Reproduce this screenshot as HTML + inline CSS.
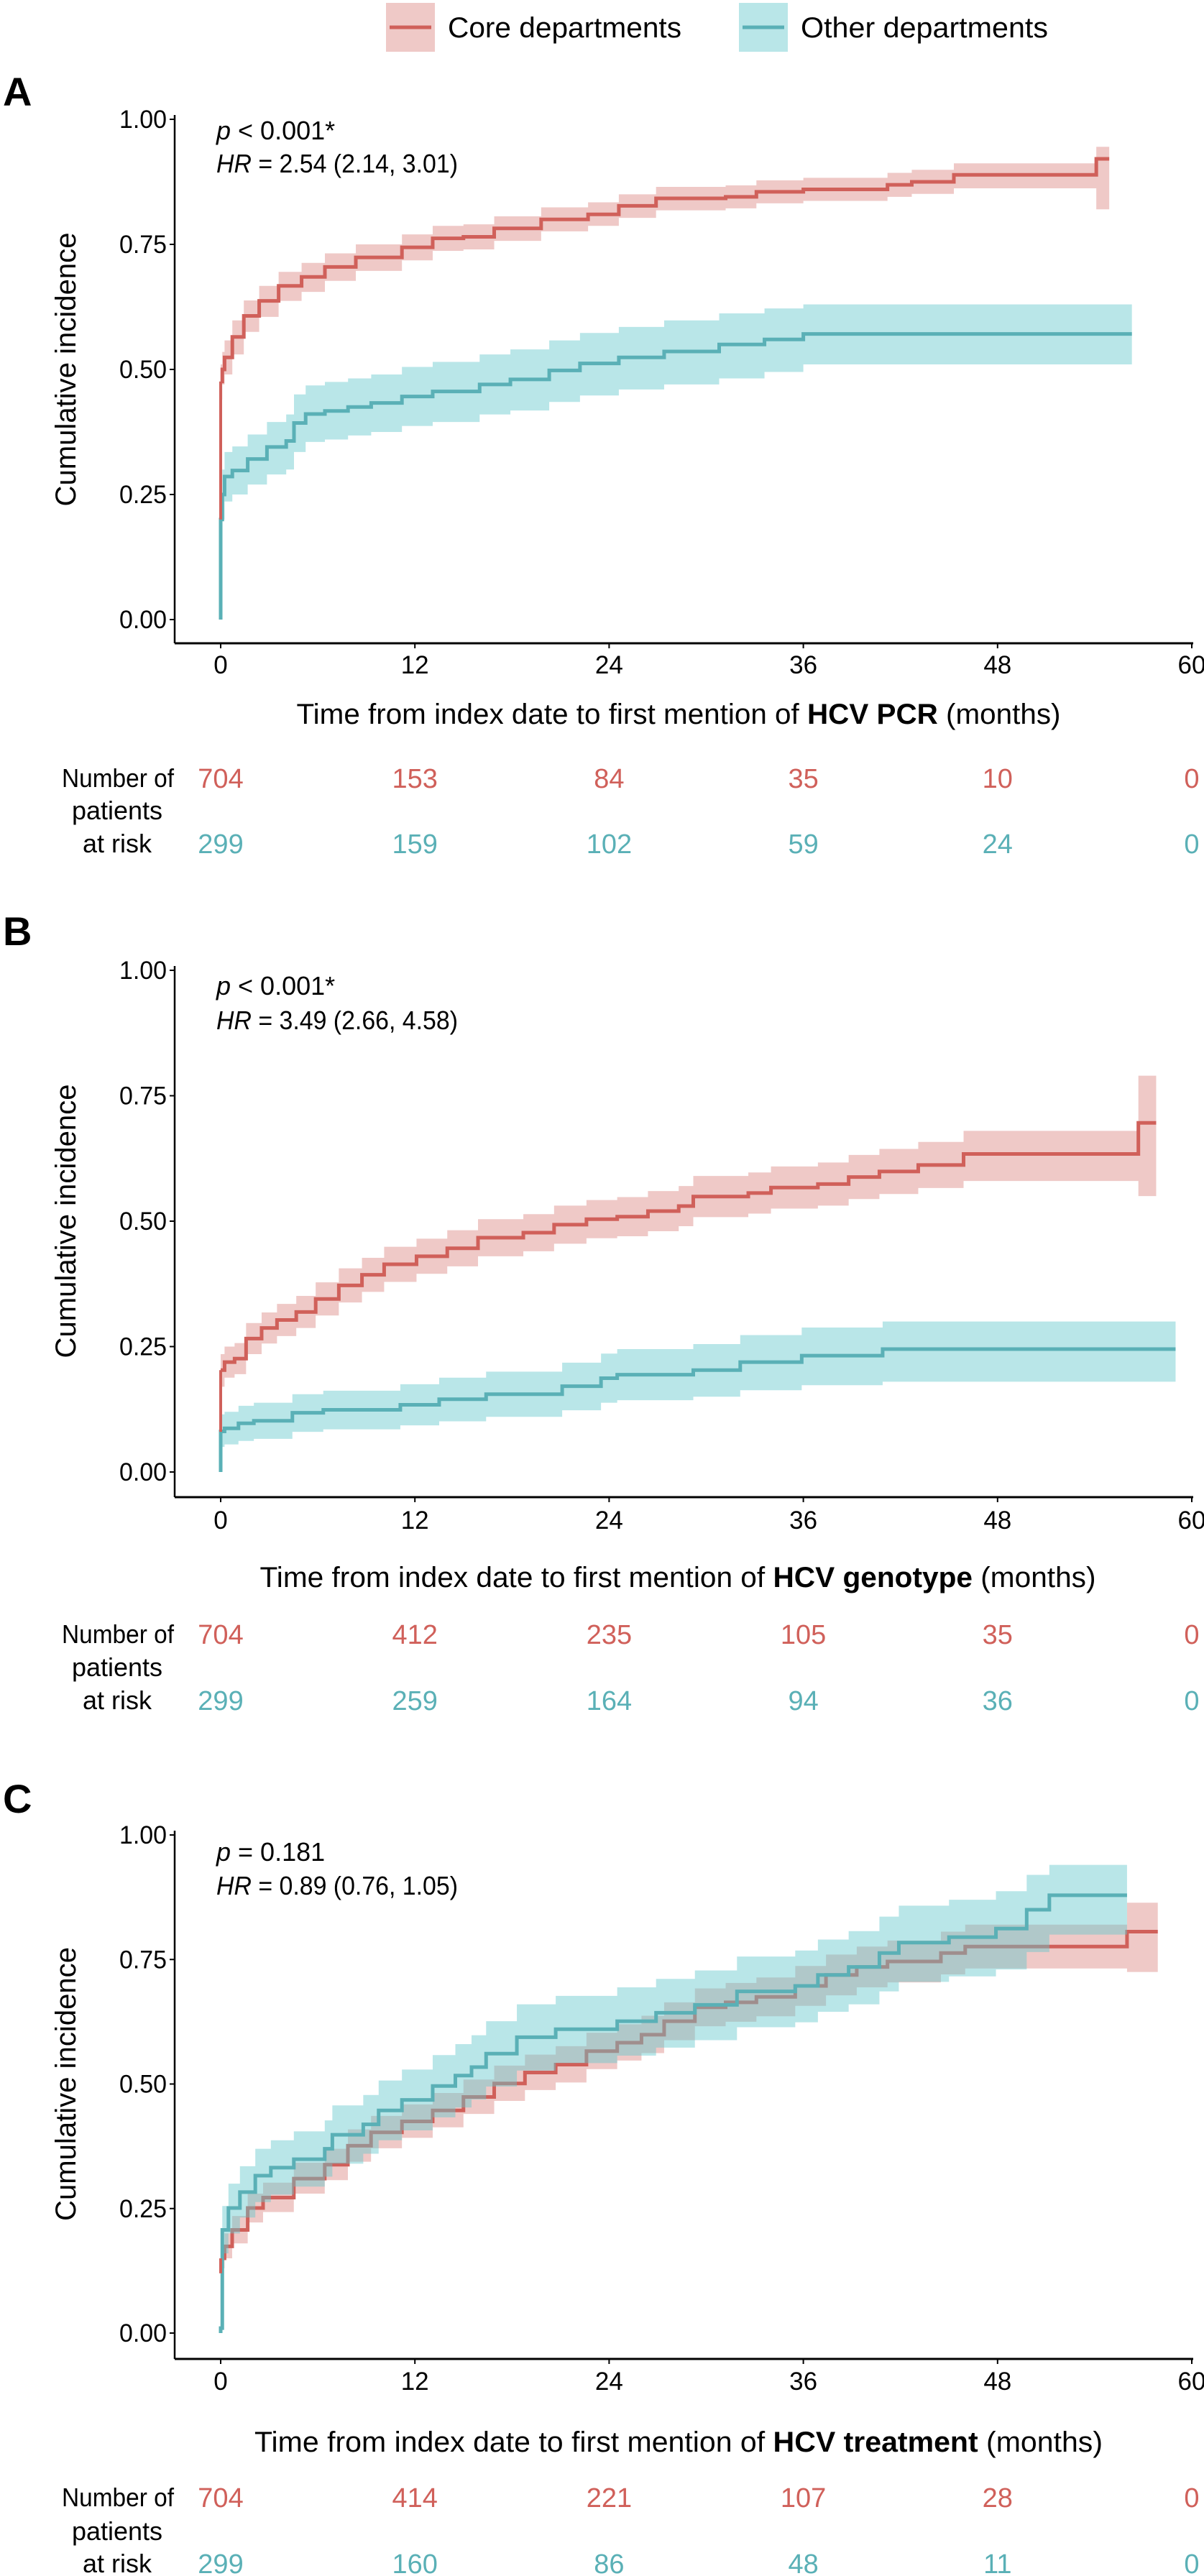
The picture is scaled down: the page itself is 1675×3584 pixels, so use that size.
<!DOCTYPE html>
<html><head><meta charset="utf-8">
<style>
html,body{margin:0;padding:0;background:#fff;}
svg{display:block;font-family:"Liberation Sans",sans-serif;}
</style></head>
<body>
<svg id="fig" width="1675" height="3584" viewBox="0 0 1675 3584" xmlns="http://www.w3.org/2000/svg">
  <g>
    <g>
      <rect x="537" y="4" width="68" height="68" fill="rgba(210,100,95,0.35)"/>
      <line x1="542" y1="38" x2="600" y2="38" stroke="#d0605a" stroke-width="5"/>
      <text x="623" y="52" font-size="40" textLength="325" lengthAdjust="spacingAndGlyphs" fill="#000">Core departments</text>
    </g>
    <g>
      <rect x="1028" y="4" width="68" height="68" fill="rgba(100,200,205,0.45)"/>
      <line x1="1033" y1="38" x2="1091" y2="38" stroke="#5ab0b6" stroke-width="5"/>
      <text x="1114" y="52" font-size="40" textLength="344" lengthAdjust="spacingAndGlyphs" fill="#000">Other departments</text>
    </g>
  </g>
</svg>
<script>
// ---------- data ----------
const xTicks = [0, 12, 24, 36, 48, 60];
const yTicks = [0, 0.25, 0.5, 0.75, 1];
const yTickLabels = ["0.00", "0.25", "0.50", "0.75", "1.00"];

// Panel A (HCV PCR)
const aCoreT  = [0, 0.1, 0.24, 0.72, 1.43, 2.38, 3.58, 5.0, 6.44, 8.35, 11.2, 13.1, 15.0, 16.9, 19.8, 22.7, 24.6, 26.9, 31.2, 33.1, 36.0, 41.2, 42.7, 45.3, 54.1, 54.9];
const aCoreV  = [0.476, 0.50, 0.524, 0.565, 0.607, 0.637, 0.667, 0.685, 0.705, 0.724, 0.744, 0.762, 0.765, 0.782, 0.80, 0.81, 0.827, 0.842, 0.845, 0.855, 0.86, 0.869, 0.875, 0.889, 0.921, 0.921];
const aCoreLo = [0.44, 0.47, 0.49, 0.53, 0.575, 0.605, 0.637, 0.655, 0.677, 0.697, 0.718, 0.737, 0.740, 0.757, 0.776, 0.787, 0.803, 0.818, 0.822, 0.832, 0.837, 0.845, 0.851, 0.862, 0.82, 0.82];
const aCoreHi = [0.51, 0.535, 0.558, 0.598, 0.638, 0.667, 0.695, 0.713, 0.732, 0.75, 0.77, 0.787, 0.79, 0.806, 0.824, 0.834, 0.85, 0.865, 0.868, 0.878, 0.883, 0.893, 0.899, 0.912, 0.945, 0.945];
const aOthT  = [0, 0.1, 0.24, 0.72, 1.67, 2.86, 4.05, 4.53, 5.25, 6.44, 7.87, 9.3, 11.2, 13.1, 16.0, 17.9, 20.3, 22.2, 24.6, 27.4, 30.8, 33.6, 36.0, 56.3];
const aOthV  = [0.20, 0.25, 0.286, 0.298, 0.321, 0.345, 0.357, 0.393, 0.411, 0.417, 0.425, 0.433, 0.446, 0.456, 0.47, 0.48, 0.498, 0.512, 0.524, 0.536, 0.55, 0.56, 0.571, 0.571];
const aOthLo = [0.16, 0.20, 0.236, 0.25, 0.27, 0.29, 0.30, 0.335, 0.355, 0.36, 0.368, 0.375, 0.387, 0.395, 0.41, 0.418, 0.435, 0.448, 0.46, 0.47, 0.482, 0.495, 0.51, 0.51];
const aOthHi = [0.25, 0.30, 0.335, 0.346, 0.37, 0.395, 0.41, 0.45, 0.468, 0.475, 0.482, 0.49, 0.505, 0.515, 0.53, 0.54, 0.558, 0.573, 0.585, 0.598, 0.612, 0.622, 0.63, 0.63];
const aRiskCore = [704, 153, 84, 35, 10, 0];
const aRiskOth  = [299, 159, 102, 59, 24, 0];

// Panel B (HCV genotype)
const bCoreT  = [0, 0.24, 0.86, 1.57, 2.53, 3.48, 4.67, 5.87, 7.3, 8.73, 10.1, 12.1, 14.0, 15.9, 18.7, 20.6, 22.6, 24.5, 26.4, 28.3, 29.2, 32.6, 34.0, 36.9, 38.8, 40.7, 43.1, 45.9, 56.7, 57.8];
const bCoreV  = [0.203, 0.219, 0.226, 0.266, 0.287, 0.303, 0.319, 0.345, 0.372, 0.393, 0.414, 0.43, 0.446, 0.467, 0.477, 0.493, 0.504, 0.509, 0.52, 0.53, 0.549, 0.556, 0.567, 0.574, 0.588, 0.599, 0.612, 0.634, 0.696, 0.696];
const bCoreLo = [0.17, 0.188, 0.195, 0.235, 0.256, 0.271, 0.287, 0.312, 0.338, 0.359, 0.379, 0.395, 0.41, 0.43, 0.44, 0.455, 0.466, 0.47, 0.48, 0.49, 0.508, 0.515, 0.525, 0.531, 0.544, 0.554, 0.566, 0.58, 0.55, 0.55];
const bCoreHi = [0.235, 0.25, 0.257, 0.297, 0.318, 0.335, 0.351, 0.378, 0.406, 0.427, 0.449, 0.465, 0.482, 0.504, 0.514, 0.531, 0.542, 0.548, 0.56, 0.57, 0.59, 0.597, 0.609, 0.617, 0.632, 0.644, 0.658, 0.68, 0.79, 0.79];
const bOthT  = [0, 0.24, 1.1, 2.05, 4.43, 6.34, 11.1, 13.5, 16.4, 21.1, 23.5, 24.5, 29.2, 32.1, 35.9, 40.9, 59.0];
const bOthV  = [0.081, 0.087, 0.097, 0.102, 0.118, 0.124, 0.134, 0.145, 0.155, 0.171, 0.187, 0.194, 0.203, 0.219, 0.232, 0.245, 0.245];
const bOthLo = [0.05, 0.055, 0.062, 0.066, 0.08, 0.085, 0.093, 0.101, 0.11, 0.123, 0.138, 0.143, 0.15, 0.163, 0.173, 0.18, 0.18];
const bOthHi = [0.115, 0.12, 0.132, 0.138, 0.155, 0.162, 0.175, 0.188, 0.2, 0.218, 0.236, 0.245, 0.255, 0.273, 0.288, 0.30, 0.30];
const bRiskCore = [704, 412, 235, 105, 35, 0];
const bRiskOth  = [299, 259, 164, 94, 36, 0];

// Panel C (HCV treatment)
const cCoreT  = [0, 0.24, 0.71, 1.67, 2.62, 4.52, 6.43, 7.86, 9.29, 11.2, 13.1, 15.0, 16.9, 18.8, 20.7, 22.6, 24.5, 26.0, 27.4, 29.3, 31.2, 33.1, 35.5, 37.4, 39.3, 41.2, 44.5, 46.0, 56.0, 57.9];
const cCoreV  = [0.15, 0.174, 0.207, 0.251, 0.272, 0.31, 0.338, 0.376, 0.403, 0.425, 0.447, 0.474, 0.501, 0.523, 0.539, 0.566, 0.583, 0.599, 0.626, 0.654, 0.664, 0.675, 0.697, 0.719, 0.735, 0.746, 0.763, 0.776, 0.806, 0.806];
const cCoreLo = [0.13, 0.15, 0.18, 0.222, 0.243, 0.28, 0.307, 0.344, 0.371, 0.392, 0.413, 0.44, 0.466, 0.488, 0.503, 0.53, 0.547, 0.562, 0.588, 0.616, 0.625, 0.636, 0.657, 0.678, 0.694, 0.704, 0.72, 0.732, 0.725, 0.725];
const cCoreHi = [0.175, 0.2, 0.235, 0.28, 0.302, 0.342, 0.37, 0.409, 0.436, 0.459, 0.482, 0.509, 0.537, 0.559, 0.576, 0.603, 0.62, 0.637, 0.664, 0.692, 0.703, 0.714, 0.737, 0.76, 0.776, 0.788, 0.806, 0.82, 0.864, 0.864];
const cOthT  = [0, 0.1, 0.48, 1.19, 2.14, 3.1, 4.52, 6.43, 6.9, 8.81, 9.76, 11.2, 13.1, 14.5, 15.5, 16.4, 18.3, 20.7, 24.5, 26.9, 29.3, 31.9, 35.5, 36.9, 38.8, 40.7, 41.9, 45.0, 47.9, 49.8, 51.2, 56.0];
const cOthV  = [0.01, 0.207, 0.251, 0.283, 0.316, 0.332, 0.349, 0.37, 0.398, 0.419, 0.447, 0.468, 0.496, 0.517, 0.534, 0.561, 0.594, 0.61, 0.626, 0.643, 0.659, 0.686, 0.697, 0.719, 0.735, 0.763, 0.784, 0.795, 0.812, 0.85, 0.879, 0.879];
const cOthLo = [0.01, 0.16, 0.2, 0.232, 0.263, 0.278, 0.294, 0.314, 0.34, 0.36, 0.387, 0.407, 0.433, 0.453, 0.469, 0.495, 0.527, 0.542, 0.557, 0.573, 0.588, 0.614, 0.624, 0.645, 0.66, 0.686, 0.705, 0.716, 0.73, 0.765, 0.8, 0.8];
const cOthHi = [0.01, 0.255, 0.3, 0.335, 0.37, 0.387, 0.405, 0.427, 0.457, 0.478, 0.507, 0.529, 0.558, 0.58, 0.598, 0.626, 0.66, 0.677, 0.694, 0.711, 0.728, 0.756, 0.768, 0.79, 0.807, 0.836, 0.858, 0.87, 0.887, 0.92, 0.94, 0.94];
const cRiskCore = [704, 414, 221, 107, 28, 0];
const cRiskOth  = [299, 160, 86, 48, 11, 0];

// ---------- drawing ----------
const NS = "http://www.w3.org/2000/svg";
const svg = document.getElementById("fig");
const RED = "#d0605a", TEAL = "#5ab0b6";
const RED_FILL = "rgba(210,100,95,0.35)", TEAL_FILL = "rgba(100,200,205,0.45)";
const X0 = 307, X60 = 1658, AXIS_X = 243;
function xs(m) { return X0 + (X60 - X0) * m / 60; }

function mk(tag, attrs, parent) {
  const e = document.createElementNS(NS, tag);
  for (const k in attrs) e.setAttribute(k, attrs[k]);
  (parent || svg).appendChild(e);
  return e;
}
function stepPath(T, V, ys) {
  let d = "M" + xs(T[0]) + "," + ys(V[0]);
  for (let i = 1; i < T.length; i++) {
    d += " H" + xs(T[i]) + " V" + ys(V[i]);
  }
  return d;
}
function bandPath(T, L, H, ys) {
  const n = T.length;
  let d = "M" + xs(T[0]) + "," + ys(H[0]);
  for (let i = 1; i < n; i++) d += " H" + xs(T[i]) + " V" + ys(H[i]);
  d += " V" + ys(L[n - 1]);
  for (let i = n - 1; i > 0; i--) d += " V" + ys(L[i]) + " V" + ys(L[i - 1]) + " H" + xs(T[i - 1]);
  d += " Z";
  return d;
}

function panel(p) {
  const g = mk("g", {});
  
  
  const ys = v => p.y0 + (p.y1 - p.y0) * v;

  const lab = mk("text", { x: 4, y: p.labY + 20, "font-size": 56, "font-weight": "bold" }, g);
  lab.textContent = p.id;
  
  

  const ya = mk("line", { x1: AXIS_X, y1: p.y1 - 6, x2: AXIS_X, y2: p.axisY, stroke: "#000", "stroke-width": 2.5 }, g);
  
  
  const xa = mk("line", { x1: AXIS_X, y1: p.axisY, x2: X60 + 2, y2: p.axisY, stroke: "#000", "stroke-width": 3 }, g);
  
  

  yTicks.forEach((v, i) => {
    mk("line", { x1: AXIS_X - 7, y1: ys(v), x2: AXIS_X, y2: ys(v), stroke: "#000", "stroke-width": 2 }, g);
    const t = mk("text", { x: 232, y: ys(v) + 12, "font-size": 35, "text-anchor": "end", textLength: 66, lengthAdjust: "spacingAndGlyphs" }, g);
    t.textContent = yTickLabels[i];
    
    
  });
  xTicks.forEach(m => {
    mk("line", { x1: xs(m), y1: p.axisY, x2: xs(m), y2: p.axisY + 7, stroke: "#000", "stroke-width": 2 }, g);
    const t = mk("text", { x: xs(m), y: p.tickY + 13, "font-size": 35, "text-anchor": "middle" }, g);
    t.textContent = String(m);
    
    
  });

  const yt = mk("text", { x: 0, y: 0, "font-size": 40, "text-anchor": "middle", textLength: 381, lengthAdjust: "spacingAndGlyphs", transform: "translate(105," + ((p.y1 + p.y0) / 2) + ") rotate(-90)" }, g);
  yt.textContent = "Cumulative incidence";
  
  

  const xt = mk("text", { x: p.titleX, y: p.titleY + 14, "font-size": 40, "text-anchor": "middle", textLength: p.titleW, lengthAdjust: "spacingAndGlyphs" }, g);
  
  
  const s1 = mk("tspan", {}, xt); s1.textContent = "Time from index date to first mention of ";
  const s2 = mk("tspan", { "font-weight": "bold" }, xt); s2.textContent = p.bold;
  const s3 = mk("tspan", {}, xt); s3.textContent = " (months)";

  const a1 = mk("text", { x: 301, y: p.y1 + p.pOff + 12, "font-size": 36 }, g);
  
  
  const i1 = mk("tspan", { "font-style": "italic" }, a1); i1.textContent = "p";
  const r1 = mk("tspan", {}, a1); r1.textContent = p.pText;
  const a2 = mk("text", { x: 301, y: p.y1 + p.hOff + 12, "font-size": 36, textLength: 336, lengthAdjust: "spacingAndGlyphs" }, g);
  
  
  const i2 = mk("tspan", { "font-style": "italic" }, a2); i2.textContent = "HR";
  const r2 = mk("tspan", {}, a2); r2.textContent = p.hrText;

  const bc = mk("path", { d: bandPath(p.coreT, p.coreLo, p.coreHi, ys), fill: RED_FILL }, g);
  
  
  const lc = mk("path", { d: stepPath(p.coreT, p.coreV, ys), fill: "none", stroke: RED, "stroke-width": 5 }, g);
  
  
  const bo = mk("path", { d: bandPath(p.othT, p.othLo, p.othHi, ys), fill: TEAL_FILL }, g);
  
  
  const lo = mk("path", { d: "M" + xs(p.othT[0]) + "," + ys(0) + " V" + ys(p.othV[0]) + stepPath(p.othT, p.othV, ys).replace(/^M[^ ]+/, ""), fill: "none", stroke: TEAL, "stroke-width": 5 }, g);
  
  
  mk("line", { x1: xs(p.coreT[0]), y1: ys(p.coreStart), x2: xs(p.coreT[0]), y2: ys(p.coreV[0]), stroke: RED, "stroke-width": 4 }, g);

  const rt = mk("g", {}, g);
  
  
  const l1 = mk("text", { x: 242, y: p.r1 + 13, "font-size": 36, "text-anchor": "end", textLength: 156, lengthAdjust: "spacingAndGlyphs" }, rt); l1.textContent = "Number of";
  const l2 = mk("text", { x: 163, y: p.r2 + 13, "font-size": 36, "text-anchor": "middle" }, rt); l2.textContent = "patients";
  const l3 = mk("text", { x: 163, y: p.r3 + 13, "font-size": 36, "text-anchor": "middle" }, rt); l3.textContent = "at risk";
  xTicks.forEach((m, i) => {
    const t1 = mk("text", { x: xs(m), y: p.r1 + 14, "font-size": 38, "text-anchor": "middle", fill: RED }, rt);
    t1.textContent = String(p.riskCore[i]);
    
    
    const t2 = mk("text", { x: xs(m), y: p.r3 + 14, "font-size": 38, "text-anchor": "middle", fill: TEAL }, rt);
    t2.textContent = String(p.riskOth[i]);
    
    
  });
}

panel({ id: "A", labY: 127, y1: 166, y0: 862, axisY: 895, tickY: 924, titleY: 993, titleX: 944, titleW: 1063, r1: 1082, r2: 1127, r3: 1173,
  bold: "HCV PCR", pOff: 16, hOff: 62, pText: " < 0.001*", hrText: " = 2.54 (2.14, 3.01)",
  coreT: aCoreT, coreV: aCoreV, coreLo: aCoreLo, coreHi: aCoreHi, coreStart: 0.2,
  othT: aOthT, othV: aOthV, othLo: aOthLo, othHi: aOthHi, riskCore: aRiskCore, riskOth: aRiskOth });
panel({ id: "B", labY: 1295, y1: 1350, y0: 2048, axisY: 2083, tickY: 2114, titleY: 2194, titleX: 943, titleW: 1163, r1: 2273, r2: 2319, r3: 2365,
  bold: "HCV genotype", pOff: 22, hOff: 70, pText: " < 0.001*", hrText: " = 3.49 (2.66, 4.58)",
  coreT: bCoreT, coreV: bCoreV, coreLo: bCoreLo, coreHi: bCoreHi, coreStart: 0.08,
  othT: bOthT, othV: bOthV, othLo: bOthLo, othHi: bOthHi, riskCore: bRiskCore, riskOth: bRiskOth });
panel({ id: "C", labY: 2502, y1: 2553, y0: 3246, axisY: 3282, tickY: 3312, titleY: 3397, titleX: 944, titleW: 1180, r1: 3474, r2: 3521, r3: 3566,
  bold: "HCV treatment", pOff: 24, hOff: 71, pText: " = 0.181", hrText: " = 0.89 (0.76, 1.05)",
  coreT: cCoreT, coreV: cCoreV, coreLo: cCoreLo, coreHi: cCoreHi, coreStart: 0.12,
  othT: cOthT, othV: cOthV, othLo: cOthLo, othHi: cOthHi, riskCore: cRiskCore, riskOth: cRiskOth });
</script>
</body></html>
